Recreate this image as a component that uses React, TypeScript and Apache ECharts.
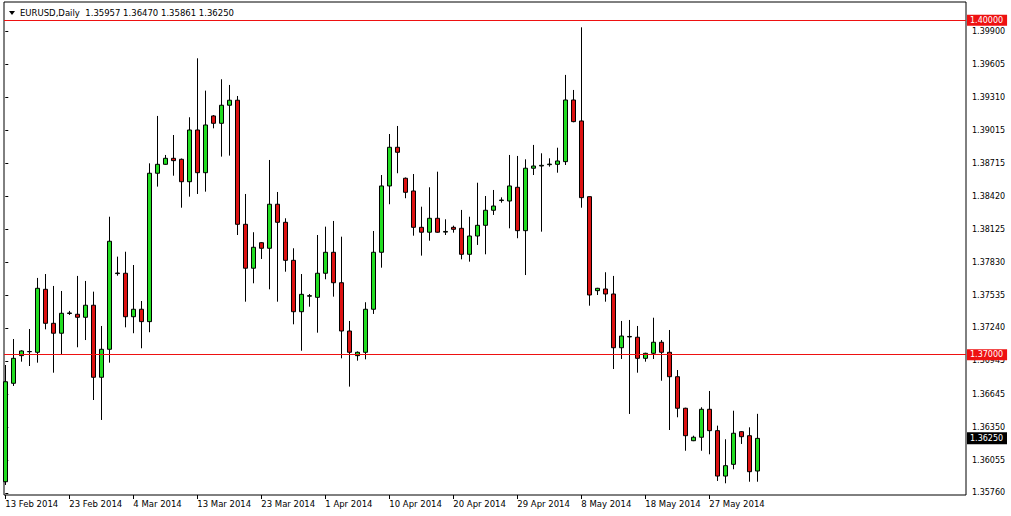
import React, { useEffect, useRef } from "react";
import * as echarts from "echarts";

const symbolName = "EURUSD,Daily";

const dates = [
  "13 Feb 2014", "14 Feb 2014", "16 Feb 2014", "17 Feb 2014", "18 Feb 2014", "19 Feb 2014", "20 Feb 2014", "21 Feb 2014",
  "23 Feb 2014", "24 Feb 2014", "25 Feb 2014", "26 Feb 2014", "27 Feb 2014", "28 Feb 2014", "2 Mar 2014", "3 Mar 2014",
  "4 Mar 2014", "5 Mar 2014", "6 Mar 2014", "7 Mar 2014", "9 Mar 2014", "10 Mar 2014", "11 Mar 2014", "12 Mar 2014",
  "13 Mar 2014", "14 Mar 2014", "16 Mar 2014", "17 Mar 2014", "18 Mar 2014", "19 Mar 2014", "20 Mar 2014", "21 Mar 2014",
  "23 Mar 2014", "24 Mar 2014", "25 Mar 2014", "26 Mar 2014", "27 Mar 2014", "28 Mar 2014", "30 Mar 2014", "31 Mar 2014",
  "1 Apr 2014", "2 Apr 2014", "3 Apr 2014", "4 Apr 2014", "6 Apr 2014", "7 Apr 2014", "8 Apr 2014", "9 Apr 2014",
  "10 Apr 2014", "11 Apr 2014", "13 Apr 2014", "14 Apr 2014", "15 Apr 2014", "16 Apr 2014", "17 Apr 2014", "18 Apr 2014",
  "20 Apr 2014", "21 Apr 2014", "22 Apr 2014", "23 Apr 2014", "24 Apr 2014", "25 Apr 2014", "27 Apr 2014", "28 Apr 2014",
  "29 Apr 2014", "30 Apr 2014", "1 May 2014", "2 May 2014", "4 May 2014", "5 May 2014", "6 May 2014", "7 May 2014",
  "8 May 2014", "9 May 2014", "11 May 2014", "12 May 2014", "13 May 2014", "14 May 2014", "15 May 2014", "16 May 2014",
  "18 May 2014", "19 May 2014", "20 May 2014", "21 May 2014", "22 May 2014", "23 May 2014", "25 May 2014", "26 May 2014",
  "27 May 2014", "28 May 2014", "29 May 2014", "30 May 2014", "1 Jun 2014", "2 Jun 2014", "3 Jun 2014",
];

const opens = [
  1.35861, 1.36744, 1.36992, 1.37029, 1.37022, 1.37587, 1.37282, 1.37193, 1.3737, 1.37363,
  1.37336, 1.37444, 1.36798, 1.37049, 1.37728, 1.37731, 1.37341, 1.37408, 1.37297, 1.38628,
  1.38708, 1.38762, 1.38753, 1.38552, 1.39016, 1.38633, 1.39142, 1.39076, 1.39238, 1.39283,
  1.3817, 1.37776, 1.38005, 1.37955, 1.3835, 1.38188, 1.37847, 1.37386, 1.37525, 1.37515,
  1.37731, 1.37919, 1.37646, 1.37213, 1.36992, 1.37022, 1.37408, 1.37919, 1.38514, 1.38861,
  1.38583, 1.38469, 1.38143, 1.38099, 1.38224, 1.381, 1.38143, 1.38134, 1.37901, 1.38065,
  1.38161, 1.38296, 1.38383, 1.38379, 1.38502, 1.38113, 1.38673, 1.38693, 1.38705, 1.38708,
  1.38732, 1.39285, 1.39097, 1.38418, 1.37575, 1.3759, 1.37545, 1.37063, 1.3716, 1.37157,
  1.36968, 1.37013, 1.37112, 1.37022, 1.36803, 1.3652, 1.36229, 1.3626, 1.36511, 1.36319,
  1.35912, 1.36017, 1.3631, 1.36274, 1.35957,
];

const highs = [
  1.36908, 1.37141, 1.3704, 1.37231, 1.37689, 1.37724, 1.37617, 1.37572, 1.37393, 1.37707,
  1.37662, 1.37566, 1.37258, 1.38238, 1.3788, 1.37924, 1.37805, 1.37482, 1.38717, 1.39142,
  1.38792, 1.38971, 1.3876, 1.3913, 1.39659, 1.39369, 1.3915, 1.39471, 1.3942, 1.39321,
  1.38442, 1.38099, 1.3801, 1.38747, 1.3846, 1.38224, 1.37955, 1.37724, 1.37545, 1.38074,
  1.38149, 1.382, 1.38059, 1.37303, 1.3703, 1.37471, 1.3811, 1.38612, 1.3898, 1.39052,
  1.3859, 1.38621, 1.38328, 1.38502, 1.38642, 1.38215, 1.38158, 1.38299, 1.38238, 1.38543,
  1.38424, 1.38478, 1.38412, 1.38792, 1.38783, 1.38753, 1.38882, 1.38807, 1.38762, 1.38857,
  1.3951, 1.39375, 1.39937, 1.3842, 1.376, 1.3774, 1.37707, 1.37303, 1.37312, 1.37258,
  1.37018, 1.37332, 1.37132, 1.37222, 1.36863, 1.36525, 1.36274, 1.36529, 1.36675, 1.36364,
  1.36242, 1.36498, 1.36315, 1.36349, 1.3647,
];

const lows = [
  1.35832, 1.3672, 1.36938, 1.36899, 1.36929, 1.37228, 1.36839, 1.36998, 1.37357, 1.37067,
  1.37132, 1.36594, 1.36415, 1.36929, 1.37709, 1.37246, 1.37193, 1.37058, 1.37202, 1.38508,
  1.38705, 1.38606, 1.38319, 1.38418, 1.38442, 1.38463, 1.39031, 1.38777, 1.38786, 1.38074,
  1.37476, 1.37641, 1.37859, 1.37587, 1.37476, 1.37745, 1.37273, 1.37036, 1.37431, 1.37198,
  1.37677, 1.37521, 1.36968, 1.36714, 1.36947, 1.36959, 1.37366, 1.37781, 1.3835, 1.38628,
  1.38404, 1.38068, 1.37889, 1.38023, 1.38095, 1.38074, 1.38095, 1.37856, 1.37835, 1.37985,
  1.37901, 1.38254, 1.38364, 1.38134, 1.38045, 1.37715, 1.38612, 1.38104, 1.38687, 1.38633,
  1.38702, 1.39085, 1.38319, 1.3744, 1.37536, 1.37476, 1.36872, 1.36962, 1.36469, 1.36839,
  1.36938, 1.36962, 1.36767, 1.36325, 1.36439, 1.36139, 1.36225, 1.36139, 1.36107, 1.35868,
  1.35847, 1.35973, 1.362, 1.35861, 1.35861,
];

const closes = [
  1.36758, 1.36968, 1.37034, 1.37027, 1.37596, 1.37282, 1.37193, 1.37372, 1.37375, 1.37336,
  1.37444, 1.36798, 1.37049, 1.38018, 1.37733, 1.37341, 1.37408, 1.37297, 1.38628, 1.38708,
  1.38762, 1.38741, 1.38552, 1.39016, 1.38633, 1.39061, 1.39076, 1.39238, 1.39283, 1.3817,
  1.37776, 1.37964, 1.37955, 1.3835, 1.38188, 1.37847, 1.37386, 1.37542, 1.3753, 1.37731,
  1.37919, 1.37646, 1.37213, 1.37022, 1.37022, 1.37408, 1.37919, 1.38514, 1.38861, 1.38816,
  1.38457, 1.38143, 1.38099, 1.38224, 1.38099, 1.38106, 1.38125, 1.37901, 1.38065, 1.38161,
  1.38296, 1.38334, 1.38388, 1.38514, 1.38113, 1.38673, 1.38693, 1.38699, 1.3871, 1.38738,
  1.39285, 1.39091, 1.38409, 1.37536, 1.37596, 1.37545, 1.37063, 1.37168, 1.37164, 1.36968,
  1.37013, 1.37112, 1.37022, 1.36803, 1.3652, 1.36274, 1.3626, 1.36511, 1.36319, 1.35912,
  1.36005, 1.36296, 1.36265, 1.35951, 1.3625,
];

const priceTicks = [
  1.399, 1.39605, 1.3931, 1.39015, 1.38715, 1.3842, 1.38125, 1.3783, 1.37535, 1.3724,
  1.36945, 1.36645, 1.3635, 1.36055, 1.3576,
];
const dateTickIndices = [0, 8, 16, 24, 32, 40, 48, 56, 64, 72, 80, 88];
const levelLines = [1.4, 1.37];

const FONT = "DejaVu Sans";
const RED = "#ee1111";

export default function App() {
  const ref = useRef<HTMLDivElement>(null);
  useEffect(() => {
    const chart = echarts.init(ref.current!, null, { renderer: "svg" });
    const last = opens.length - 1;
    const data = opens.map((o, i) => [i, o, closes[i], lows[i], highs[i]]);
    const title = `${symbolName}  ${opens[last].toFixed(5)} ${highs[last].toFixed(5)} ${lows[last].toFixed(5)} ${closes[last].toFixed(5)}`;

    const boxLabel = (text: string, bg: string) => ({
      show: true,
      position: "end",
      distance: 1,
      formatter: () => text,
      color: "#fff",
      backgroundColor: bg,
      padding: [2, 4, 1, 3],
      fontFamily: FONT,
      fontSize: 8,
    });

    chart.setOption({
      animation: false,
      backgroundColor: "#ffffff",
      grid: {
        left: 4,
        right: 45,
        top: 2,
        bottom: 21,
        show: true,
        borderColor: "#000",
        borderWidth: 1,
        backgroundColor: "#fff",
      },
      xAxis: {
        type: "value",
        min: -0.1625,
        max: 120.0875,
        splitLine: { show: false },
        axisLine: { show: false },
        axisTick: {
          show: true,
          length: 4,
          lineStyle: { color: "#000" },
          customValues: dateTickIndices,
        },
        axisLabel: {
          customValues: dateTickIndices,
          formatter: (v: number) => dates[Math.round(v)] || "",
          align: "left",
          margin: 4,
          color: "#000",
          fontFamily: FONT,
          fontSize: 8.5,
          showMinLabel: true,
          showMaxLabel: true,
        },
      },
      yAxis: {
        type: "value",
        position: "right",
        min: 1.35742,
        max: 1.40164,
        splitLine: { show: false },
        axisLine: { show: false },
        axisTick: {
          show: true,
          length: 3,
          lineStyle: { color: "#000" },
          customValues: priceTicks,
        },
        axisLabel: {
          customValues: priceTicks,
          formatter: (v: number) => v.toFixed(5),
          margin: 6,
          color: "#000",
          fontFamily: FONT,
          fontSize: 8,
          showMinLabel: true,
          showMaxLabel: true,
        },
      },
      graphic: [
        {
          id: "tri",
          type: "polygon",
          shape: { points: [[9, 11], [15, 11], [12, 15]] },
          style: { fill: "#000" },
          z: 100,
        },
        {
          id: "title",
          type: "text",
          x: 20,
          y: 13,
          style: {
            text: title,
            fill: "#000",
            font: `8.5px "${FONT}"`,
            verticalAlign: "middle",
          },
          z: 100,
        },
      ],
      series: [
        {
          type: "candlestick",
          data,
          barWidth: 4,
          clip: true,
          itemStyle: {
            color: "#22dd22",
            color0: "#dd1111",
            borderColor: "#000",
            borderColor0: "#000",
            borderColorDoji: "#000",
            borderWidth: 1,
          },
          markLine: {
            silent: true,
            symbol: ["none", "none"],
            animation: false,
            data: levelLines.map((v) => ({
              yAxis: v,
              lineStyle: { color: RED, width: 1, type: "solid" },
              label: boxLabel(v.toFixed(5), RED),
            })),
          },
        },
      ],
    });

    // current price box placed through the chart's own y scale
    const py = chart.convertToPixel({ yAxisIndex: 0 }, closes[last]) as number;
    const px = chart.convertToPixel({ xAxisIndex: 0 }, 120.0875) as number;
    chart.setOption({
      graphic: [
        {
          id: "curBox",
          type: "rect",
          shape: { x: px + 1, y: py - 6, width: 40, height: 12 },
          style: { fill: "#000" },
          z: 100,
        },
        {
          id: "curText",
          type: "text",
          x: px + 4,
          y: py + 0.5,
          style: {
            text: closes[last].toFixed(5),
            fill: "#fff",
            font: `8px "${FONT}"`,
            verticalAlign: "middle",
          },
          z: 101,
        },
      ],
    });
    return () => chart.dispose();
  }, []);
  return (
    <div
      ref={ref}
      style={{ position: "absolute", left: 0, top: 0, width: 1011, height: 516, background: "#fff" }}
    />
  );
}
